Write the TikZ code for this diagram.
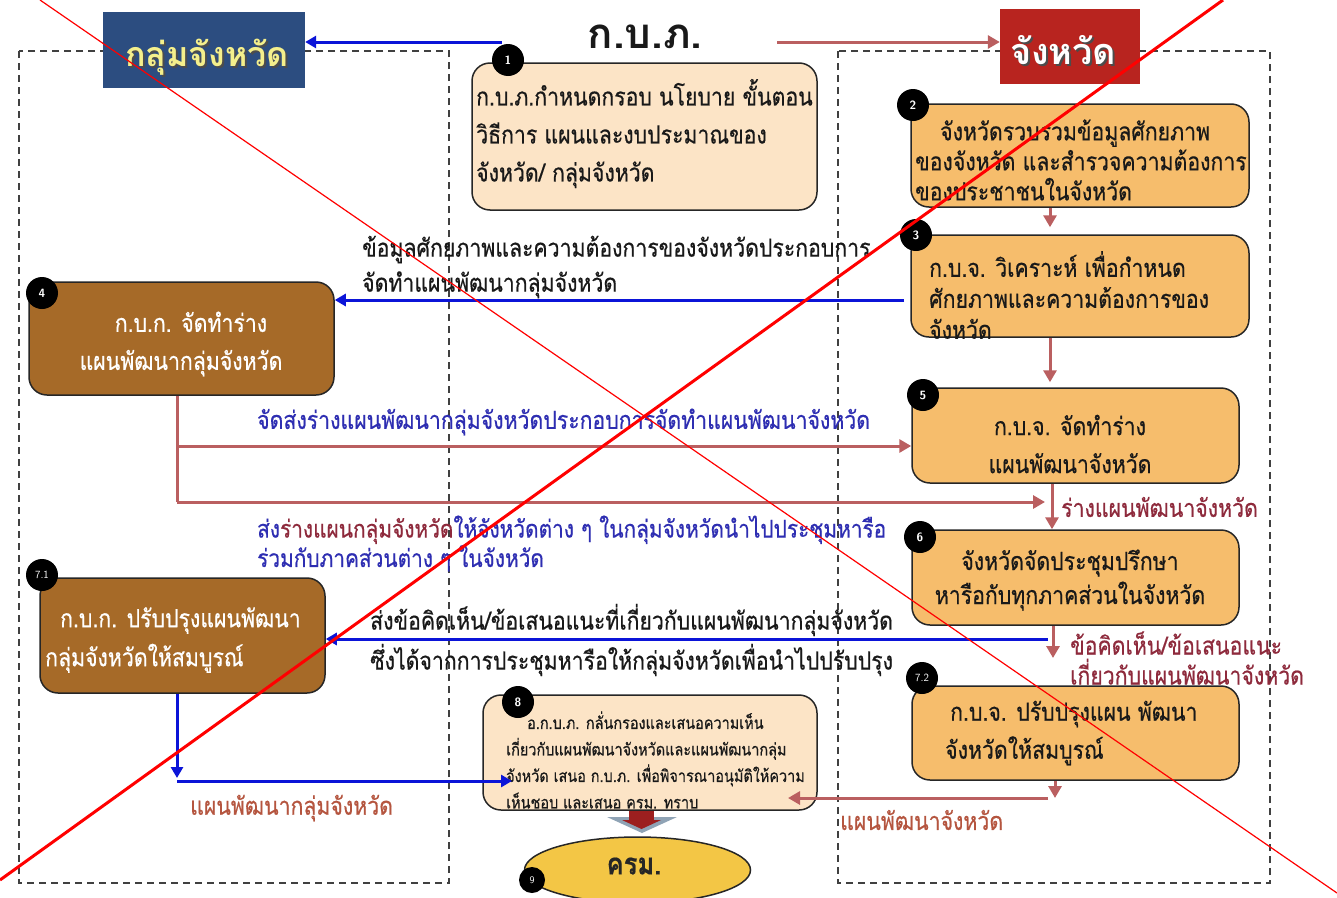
\documentclass[tikz,border=0pt]{standalone}
\usepackage{fontspec}
\newfontfamily\thai[Script=Thai, FakeStretch=0.85, FakeBold=0.5]{Loma}
\newfontfamily\thaiN[Script=Thai]{Loma}
\usetikzlibrary{arrows.meta,shapes.geometric}
\definecolor{navy}{HTML}{2C4D80}
\definecolor{titleyel}{HTML}{F4EF8C}
\definecolor{redbox}{HTML}{B8241F}
\definecolor{peach}{HTML}{FCE4C6}
\definecolor{orangebox}{HTML}{F6BD6C}
\definecolor{brownbox}{HTML}{A66A28}
\definecolor{arblue}{HTML}{0B14D8}
\definecolor{arbrown}{HTML}{BA5F60}
\definecolor{txblue}{HTML}{2E2EB2}
\definecolor{txmaroon}{HTML}{8E2A3C}
\definecolor{txbrown}{HTML}{B5553F}
\definecolor{kryel}{HTML}{F3C645}
\definecolor{greyarrow}{HTML}{8FA3B5}
\definecolor{darkred}{HTML}{9C1F1F}
\begin{document}
\begin{tikzpicture}[x=1pt,y=-1pt,
  frame/.style={draw=black!75, line width=1.4pt, dash pattern=on 7pt off 5pt},
  boxbase/.style={draw=black!85, line width=1.5pt, rounded corners=18pt, inner sep=0pt},
  pbox/.style={boxbase, fill=peach},
  obox/.style={boxbase, fill=orangebox},
  bbox/.style={boxbase, fill=brownbox},
  badge/.style={circle, fill=black, text=white, inner sep=0pt, minimum size=32pt, font=\sffamily\bfseries\fontsize{12}{12}\selectfont},
  txt/.style={font=\thai\fontsize{25}{38}\selectfont, align=left, inner sep=0pt, anchor=west, text=black!90},
  lbl/.style={font=\thai\fontsize{25}{35}\selectfont, align=left, inner sep=0pt, anchor=west},
  blu/.style={draw=arblue, line width=3pt, -{Triangle[length=11pt,width=12pt]}},
  brn/.style={draw=arbrown, line width=3pt, -{Triangle[length=12pt,width=13pt]}},
  brnline/.style={draw=arbrown, line width=3pt}
]
\useasboundingbox (0,0) rectangle (1337,897);
\fill[white] (0,0) rectangle (1337,897);

% dashed frames
\draw[frame] (19,51) rectangle (449,883);
\draw[frame] (838,51) rectangle (1270,883);

% titles
\node[fill=navy, minimum width=202pt, minimum height=76pt, inner sep=0pt] (navyb) at (204,50) {};
\node[font=\thaiN\bfseries\fontsize{34}{34}\selectfont, text=black!70, inner sep=0pt] (navysh) at (209,59) {กลุ่มจังหวัด};
\node[font=\thaiN\bfseries\fontsize{34}{34}\selectfont, text=titleyel, inner sep=0pt] (navyt) at (207,57) {กลุ่มจังหวัด};
\node[font=\thaiN\bfseries\fontsize{42}{42}\selectfont, text=black!90, inner sep=0pt] (kbp) at (645,37) {ก.บ.ภ.};
\node[fill=redbox, minimum width=140pt, minimum height=75pt, inner sep=0pt] (redb) at (1070,46.5) {};
\node[font=\thaiN\bfseries\fontsize{36}{36}\selectfont, text=black!70, inner sep=0pt] (redsh) at (1065,52) {จังหวัด};
\node[font=\thaiN\bfseries\fontsize{36}{36}\selectfont, text=white, inner sep=0pt] (redt) at (1063,50) {จังหวัด};

% boxes
\node[pbox, minimum width=345pt, minimum height=147pt] (b1) at (644.5,136.5) {};
\node[obox, minimum width=338pt, minimum height=103pt] (b2) at (1080,155.5) {};
\node[obox, minimum width=338pt, minimum height=102pt] (b3) at (1080,286) {};
\node[bbox, minimum width=305pt, minimum height=113pt] (b4) at (181.5,338.5) {};
\node[obox, minimum width=327pt, minimum height=95pt] (b5) at (1075.5,435.5) {};
\node[obox, minimum width=327pt, minimum height=95pt] (b6) at (1075.5,577.5) {};
\node[bbox, minimum width=285pt, minimum height=115pt] (b71) at (182.5,635.5) {};
\node[obox, minimum width=327pt, minimum height=94pt] (b72) at (1075.5,733) {};
\node[pbox, minimum width=334pt, minimum height=115pt] (b8) at (650,752.5) {};

% box texts
\node[txt] (t1) at (476,133.5) {ก.บ.ภ.กำหนดกรอบ นโยบาย ขั้นตอน\\วิธีการ แผนและงบประมาณของ\\จังหวัด/ กลุ่มจังหวัด};
\node[txt, font=\thai\fontsize{25}{30}\selectfont] (t2) at (915,160) {\hspace*{25pt}จังหวัดรวบรวมข้อมูลศักยภาพ\\ของจังหวัด และสำรวจความต้องการ\\ของประชาชนในจังหวัด};
\node[txt, font=\thai\fontsize{25}{31}\selectfont] (t3) at (929,295) {ก.บ.จ. วิเคราะห์ เพื่อกำหนด\\ศักยภาพและความต้องการของ\\จังหวัด};
\node[txt, anchor=center, align=center, text=white] (t4) at (181,344) {\hspace*{20pt}ก.บ.ก. จัดทำร่าง\\แผนพัฒนากลุ่มจังหวัด};
\node[txt, anchor=center, align=center] (t5) at (1070,444) {ก.บ.จ. จัดทำร่าง\\แผนพัฒนาจังหวัด};
\node[txt, anchor=center, align=center, font=\thai\fontsize{25}{34}\selectfont] (t6) at (1070,580) {จังหวัดจัดประชุมปรึกษา\\หารือกับทุกภาคส่วนในจังหวัด};
\node[txt, text=white, font=\thai\fontsize{25}{39}\selectfont] (t71) at (45,640) {\hspace*{15pt}ก.บ.ก. ปรับปรุงแผนพัฒนา\\กลุ่มจังหวัดให้สมบูรณ์};
\node[txt] (t72) at (945,733) {\hspace*{5pt}ก.บ.จ. ปรับปรุงแผน พัฒนา\\จังหวัดให้สมบูรณ์};
\node[txt, font=\thai\fontsize{17}{26.5}\selectfont] (t8) at (506,760) {\hspace*{21pt}อ.ก.บ.ภ. กลั่นกรองและเสนอความเห็น\\เกี่ยวกับแผนพัฒนาจังหวัดและแผนพัฒนากลุ่ม\\จังหวัด เสนอ ก.บ.ภ. เพื่อพิจารณาอนุมัติให้ความ\\เห็นชอบ และเสนอ ครม. ทราบ};

% badges
\node[badge] (n1) at (508,60) {1};
\node[badge] (n2) at (913,105) {2};
\node[badge] (n3) at (916,235) {3};
\node[badge] (n4) at (42,293) {4};
\node[badge] (n5) at (923,395) {5};
\node[badge] (n6) at (920,537) {6};
\node[badge, font=\sffamily\fontsize{11}{11}\selectfont] (n71) at (42,575) {7.1};
\node[badge, font=\sffamily\fontsize{11}{11}\selectfont] (n72) at (922,678) {7.2};

% labels
\node[lbl, text=black!90] (l34) at (362,267) {ข้อมูลศักยภาพและความต้องการของจังหวัดประกอบการ\\จัดทำแผนพัฒนากลุ่มจังหวัด};
\node[lbl, text=txblue] (l45) at (257,422) {จัดส่งร่างแผนพัฒนากลุ่มจังหวัดประกอบการจัดทำแผนพัฒนาจังหวัด};
\node[lbl, text=txmaroon] (l56) at (1061,507) {ร่างแผนพัฒนาจังหวัด};
\node[lbl, text=txblue, font=\thai\fontsize{24.5}{27}\selectfont] (l46) at (257,543.5) {ส่ง\textcolor{txmaroon}{ร่างแผนกลุ่มจังหวัด}ให้จังหวัดต่าง ๆ ในกลุ่มจังหวัดนำไปประชุมหารือ\\ร่วมกับภาคส่วนต่าง ๆ ในจังหวัด};
\node[lbl, text=black!90, font=\thai\fontsize{25}{40}\selectfont] (l671) at (370,640) {ส่งข้อคิดเห็น/ข้อเสนอแนะที่เกี่ยวกับแผนพัฒนากลุ่มจังหวัด\\ซึ่งได้จากการประชุมหารือให้กลุ่มจังหวัดเพื่อนำไปปรับปรุง};
\node[lbl, text=txmaroon, font=\thai\fontsize{25}{30}\selectfont] (l672) at (1070,658) {ข้อคิดเห็น/ข้อเสนอแนะ\\เกี่ยวกับแผนพัฒนาจังหวัด};
\node[lbl, text=txbrown] (l718) at (190,808) {แผนพัฒนากลุ่มจังหวัด};
\node[lbl, text=txbrown] (l728) at (840,820) {แผนพัฒนาจังหวัด};

% block arrow and ellipse
\fill[greyarrow] (607,817) -- (677,817) -- (642,833) -- cycle;
\fill[darkred] (629,811) rectangle (654,822);
\fill[darkred] (622,820) -- (661,820) -- (641.5,829) -- cycle;
\node[ellipse, draw=black!85, line width=1.5pt, fill=kryel, minimum width=226pt, minimum height=66pt, inner sep=0pt] (krm) at (637.5,870) {};
\node[font=\thai\bfseries\fontsize{30}{30}\selectfont, text=black!85, inner sep=0pt] (krmt) at (634,866) {ครม.};
\node[badge] (n8) at (518,702) {8};
\node[badge, minimum size=26pt, font=\sffamily\fontsize{10}{10}\selectfont] (n9) at (532,880) {9};

% connectors
\coordinate (tb) at (502,42);
\draw[blu] (tb) -- (tb -| navyb.east);
\coordinate (tr) at (777,42);
\draw[brn] (tr) -- (tr -| redb.west);

\coordinate (x23) at (1050,0);
\draw[brn] (b2.south -| x23) -- ([yshift=7pt]b3.north -| x23);
\draw[brn] (b3.south -| x23) -- ([yshift=5pt]b5.north -| x23);

\coordinate (c34) at (904,300);
\draw[blu] (c34) -- (c34 -| b4.east);

\coordinate (j1) at (177,446);
\coordinate (j2) at (177,502);
\coordinate (t56) at (1045,502);
\draw[brnline] (b4.south -| j1) -- (j2);
\draw[brn] (j1) -- (j1 -| b5.west);
\draw[brn] (j2) -- (t56);

\coordinate (x56) at (1052,0);
\draw[brn] (b5.south -| x56) -- (b6.north -| x56);

\coordinate (c6) at (1048,639);
\draw[blu] (c6) -- (c6 -| b71.east);
\coordinate (x6d) at (1053,0);
\coordinate (e6) at (1053,658);
\draw[brn] (b6.south -| x6d) -- (e6);

\coordinate (j3) at (177,778);
\coordinate (j4) at (177,781);
\coordinate (e8a) at (512,781);
\draw[blu] (b71.south -| j3) -- (j3);
\draw[blu] (j4) -- (e8a);

\coordinate (x72) at (1055,0);
\coordinate (j5) at (1055,798);
\coordinate (j6) at (1048,798);
\coordinate (e8b) at (788,798);
\draw[brn] (b72.south -| x72) -- (j5);
\draw[brn] (j6) -- (e8b);

% red cross overlay
\draw[red, line width=1.2pt] (40,0) -- (1337,893);
\draw[red, line width=3pt] (1223,0) -- (0,880);
\end{tikzpicture}
\end{document}
